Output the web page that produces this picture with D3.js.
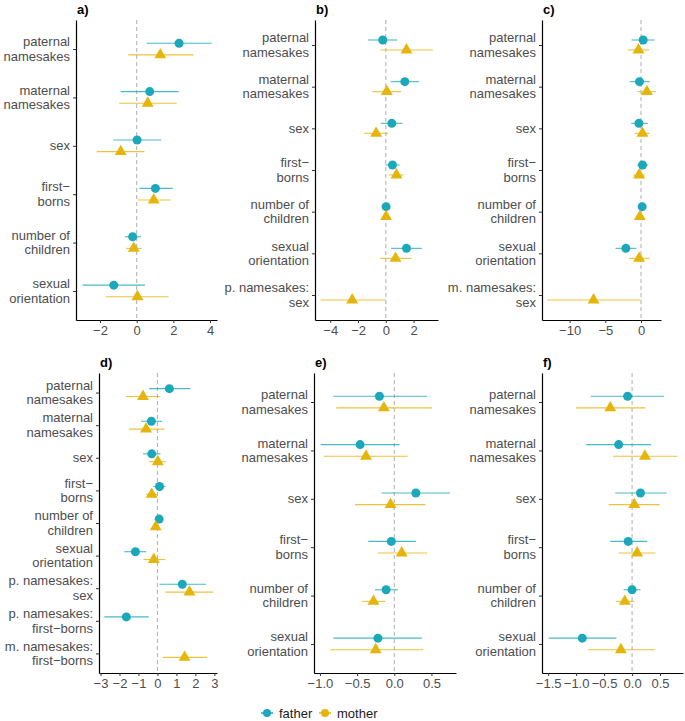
<!DOCTYPE html>
<html><head><meta charset="utf-8">
<script src="https://cdn.jsdelivr.net/npm/d3@7"></script>
<style>body{margin:0;background:#fff}svg{display:block}</style>
</head><body>
<script>
// ---------- DATA ----------
const labelsA = ["paternal\nnamesakes","maternal\nnamesakes","sex","first−\nborns","number of\nchildren","sexual\norientation"];
const labelsB = labelsA.concat(["p. namesakes:\nsex"]);
const labelsC = labelsA.concat(["m. namesakes:\nsex"]);
const labelsD = labelsA.concat(["p. namesakes:\nsex","p. namesakes:\nfirst−borns","m. namesakes:\nfirst−borns"]);
const labelsE = labelsA;
const labelsF = labelsA;

// [estimate, lower, upper]; null = not estimated
const fatherA = [[2.31,0.55,4.09],[0.71,-0.87,2.29],[0.02,-1.27,1.34],[1.02,0.15,1.96],[-0.22,-0.64,0.23],[-1.25,-2.95,0.45]];
const motherA = [[1.29,-0.46,3.09],[0.6,-0.95,2.18],[-0.87,-2.18,0.42],[0.93,0.04,1.85],[-0.16,-0.58,0.27],[0.04,-1.67,1.74]];
const fatherB = [[-0.22,-1.27,0.82],[1.37,0.36,2.4],[0.43,-0.36,1.2],[0.48,-0.02,1.0],[0.02,-0.12,0.2],[1.49,0.38,2.61],null];
const motherB = [[1.49,-0.38,3.38],[0.07,-0.96,1.1],[-0.7,-1.56,0.17],[0.77,0.22,1.29],[0.02,-0.17,0.26],[0.7,-0.41,1.85],[-2.42,-4.7,-0.02]];
const fatherC = [[0.3,-1.33,1.89],[-0.21,-1.57,1.23],[-0.3,-1.37,0.95],[0.21,-0.53,1.0],[0.16,-0.03,0.39],[-2.12,-3.57,-0.63],null];
const motherC = [[-0.35,-1.8,1.15],[0.82,-0.49,2.07],[0.21,-0.87,1.23],[-0.26,-1.1,0.53],[-0.17,-0.45,0.11],[-0.26,-1.66,1.19],[-6.65,-13.14,-0.07]];
const fatherD = [[0.63,-0.44,1.73],[-0.32,-0.86,0.26],[-0.3,-0.76,0.16],[0.11,-0.21,0.41],[0.09,0.0,0.19],[-1.16,-1.75,-0.6],[1.31,0.11,2.56],[-1.64,-2.8,-0.46],null];
const motherD = [[-0.76,-1.66,0.16],[-0.6,-1.5,0.37],[0.02,-0.44,0.46],[-0.3,-0.6,-0.02],[-0.09,-0.21,0.05],[-0.19,-0.74,0.41],[1.69,0.42,2.95],null,[1.43,0.28,2.63]];
const fatherE = [[-0.2,-0.82,0.44],[-0.46,-0.99,0.07],[0.29,-0.17,0.75],[-0.04,-0.35,0.29],[-0.11,-0.26,0.05],[-0.22,-0.82,0.37]];
const motherE = [[-0.14,-0.78,0.51],[-0.38,-0.95,0.18],[-0.05,-0.53,0.42],[0.1,-0.22,0.44],[-0.28,-0.43,-0.12],[-0.25,-0.86,0.39]];
const fatherF = [[-0.08,-0.74,0.57],[-0.24,-0.82,0.34],[0.15,-0.3,0.62],[-0.07,-0.39,0.27],[0.0,-0.15,0.15],[-0.89,-1.49,-0.28]];
const motherF = [[-0.39,-1.0,0.24],[0.23,-0.34,0.81],[0.04,-0.42,0.49],[0.09,-0.24,0.42],[-0.13,-0.29,0.04],[-0.2,-0.79,0.41]];

const limitsA = [-3.31,4.38], ticksA = [-2,0,2,4];
const limitsB = [-5.1,3.76],  ticksB = [-4,-2,0,2];
const limitsC = [-13.87,2.8], ticksC = [-10,-5,0];
const limitsD = [-3.08,3.14], ticksD = [-3,-2,-1,0,1,2,3];
const limitsE = [-1.08,0.83], ticksE = [-1,-0.5,0,0.5];
const limitsF = [-1.61,0.91], ticksF = [-1.5,-1,-0.5,0,0.5];

const panelTitles = ["a)","b)","c)","d)","e)","f)"];
const seriesNames = ["father","mother"];
const seriesColors = ["#1AA8BA","#E5B50C"];

// ---------- LAYOUT ----------
const W = 685, H = 721;
const boxes = [
  {l:76, r:217, t:20, b:320},
  {l:315,r:438, t:20, b:320},
  {l:542,r:661, t:20, b:320},
  {l:99, r:217, t:373,b:673},
  {l:314,r:456, t:373,b:673},
  {l:542,r:683, t:373,b:673}
];
const panels = [
  {labels:labelsA, f:fatherA, m:motherA, lim:limitsA, ticks:ticksA, fmt:d3.format("d")},
  {labels:labelsB, f:fatherB, m:motherB, lim:limitsB, ticks:ticksB, fmt:d3.format("d")},
  {labels:labelsC, f:fatherC, m:motherC, lim:limitsC, ticks:ticksC, fmt:d3.format("d")},
  {labels:labelsD, f:fatherD, m:motherD, lim:limitsD, ticks:ticksD, fmt:d3.format("d")},
  {labels:labelsE, f:fatherE, m:motherE, lim:limitsE, ticks:ticksE, fmt:d3.format(".1f")},
  {labels:labelsF, f:fatherF, m:motherF, lim:limitsF, ticks:ticksF, fmt:d3.format(".1f")}
];
const FONT = "'Liberation Sans', Arial, sans-serif";
const minus = s => s.replace(/-/g, "\u2212");

const svg = d3.select("body").append("svg").attr("width",W).attr("height",H)
  .style("font-family",FONT);

panels.forEach((p,i) => {
  const bx = boxes[i];
  const g = svg.append("g");
  const x = d3.scaleLinear().domain(p.lim).range([bx.l,bx.r]);
  const y = d3.scalePoint().domain(p.labels).range([bx.t,bx.b]).padding(0.6);
  const dodge = y.step()*0.12;

  // zero reference line
  g.append("line").attr("x1",x(0)).attr("x2",x(0)).attr("y1",bx.t).attr("y2",bx.b)
    .attr("stroke","#b5b5b5").attr("stroke-width",1.1).attr("stroke-dasharray","4,3");

  // x axis
  const xa = g.append("g").attr("transform",`translate(0,${bx.b})`)
    .call(d3.axisBottom(x).tickValues(p.ticks).tickSize(3).tickSizeOuter(0).tickPadding(3)
      .tickFormat(d => minus(p.fmt(d))));
  xa.select(".domain").attr("stroke","#000").attr("stroke-width",1.2);
  xa.selectAll(".tick line").attr("stroke","#333");
  xa.selectAll(".tick text").attr("fill","#4d4d4d").style("font-size","13px").style("font-family",FONT);

  // y axis
  const ya = g.append("g").attr("transform",`translate(${bx.l},0)`)
    .call(d3.axisLeft(y).tickSize(3).tickSizeOuter(0).tickFormat(""));
  ya.select(".domain").attr("stroke","#000").attr("stroke-width",1.2);
  ya.selectAll(".tick line").attr("stroke","#333");
  p.labels.forEach(lab => {
    const lines = lab.split("\n");
    const t = g.append("text").attr("text-anchor","end").attr("fill","#4d4d4d")
      .style("font-size","13px");
    const lh = 14.5;
    const y0 = y(lab) - (lines.length-1)*lh/2 + 4.5;
    lines.forEach((ln,k) => t.append("tspan").attr("x",bx.l-6).attr("y",y0+k*lh).text(ln));
  });

  // series
  [p.f, p.m].forEach((ser, si) => {
    const col = seriesColors[si];
    const off = si===0 ? -dodge : dodge;
    p.labels.forEach((lab, k) => {
      const v = ser[k];
      if (!v) return;
      const cy = y(lab) + off;
      g.append("line").attr("x1",x(v[1])).attr("x2",x(v[2])).attr("y1",cy).attr("y2",cy)
        .attr("stroke",col).attr("stroke-opacity",0.8).attr("stroke-width",1.1);
      if (si===0) {
        g.append("circle").attr("cx",x(v[0])).attr("cy",cy).attr("r",4.5).attr("fill",col);
      } else {
        g.append("path").attr("transform",`translate(${x(v[0])},${cy})`)
          .attr("d", d3.symbol(d3.symbolTriangle, 62)()).attr("fill",col);
      }
    });
  });

  // panel title
  svg.append("text").attr("x",bx.l+1).attr("y",bx.t-6).text(panelTitles[i])
    .style("font-size","13px").style("font-weight","bold").attr("fill","#000");
});

// legend
const lg = svg.append("g").attr("transform","translate(0,713)");
const legX = [267, 325];
seriesNames.forEach((nm,i) => {
  lg.append("line").attr("x1",legX[i]-6).attr("x2",legX[i]+6).attr("y1",0).attr("y2",0)
    .attr("stroke",seriesColors[i]).attr("stroke-width",1.5);
  lg.append("circle").attr("cx",legX[i]).attr("cy",0).attr("r",4).attr("fill",seriesColors[i]);
  lg.append("text").attr("x",legX[i]+12).attr("y",4.5).text(nm).attr("fill","#1a1a1a")
    .style("font-size","13px");
});
</script>
</body></html>
